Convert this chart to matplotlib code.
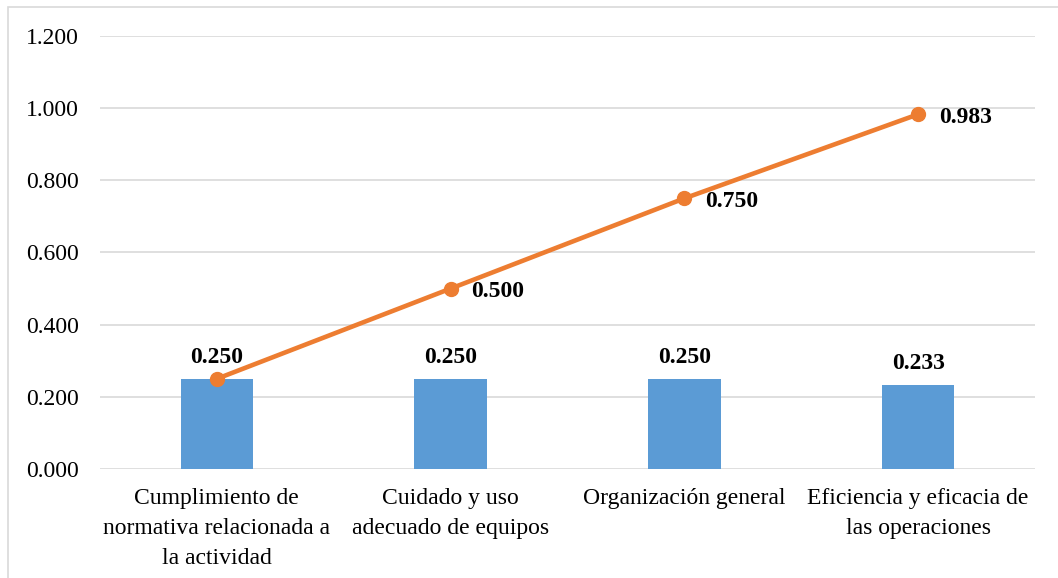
import numpy as np
import matplotlib.pyplot as plt
from matplotlib.patches import Rectangle

categories = ["Cumplimiento de\nnormativa relacionada a\nla actividad",
              "Cuidado y uso\nadecuado de equipos",
              "Organización general",
              "Eficiencia y eficacia de\nlas operaciones"]
bar_values = [0.250, 0.250, 0.250, 0.233]
line_values = [0.250, 0.500, 0.750, 0.983]
y_ticks = [0.0, 0.2, 0.4, 0.6, 0.8, 1.0, 1.2]

plt.rcParams['font.family'] = ['Liberation Serif', 'DejaVu Serif']

fig = plt.figure(figsize=(10.58, 5.78), dpi=100)
ax = fig.add_axes([100 / 1058, 1 - 469 / 578, 935 / 1058, 433 / 578])

# figure border (left and top visible)
fig.patches.append(Rectangle((8 / 1058, -0.1), 1.2, 1 - 7 / 578 + 0.1,
                             transform=fig.transFigure, fill=False,
                             edgecolor='#d9d9d9', linewidth=1.2))

x = np.arange(len(categories))
ax.bar(x, bar_values, width=0.31, color='#5B9BD5', zorder=2)
ax.plot(x, line_values, color='#ED7D31', linewidth=3.3, marker='o',
        markersize=10, zorder=3)

for xi, v in zip(x, bar_values):
    ax.annotate(f"{v:.3f}", (xi, v), xytext=(0, 8), textcoords='offset points',
                ha='center', va='bottom', fontsize=17, fontweight='bold')
for xi, v in zip(x[1:], line_values[1:]):
    ax.annotate(f"{v:.3f}", (xi, v), xytext=(15, -2), textcoords='offset points',
                ha='left', va='center', fontsize=17, fontweight='bold')

ax.set_xlim(-0.5, len(categories) - 0.5)
ax.set_ylim(0, 1.2)
ax.set_yticks(y_ticks)
ax.set_yticklabels([f"{t:.3f}" for t in y_ticks], fontsize=17)
ax.set_xticks(x)
ax.set_xticklabels(categories, fontsize=17, linespacing=1.55)
ax.tick_params(axis='both', length=0)
ax.tick_params(axis='y', pad=15)
ax.tick_params(axis='x', pad=14)
ax.grid(axis='y', color='#d9d9d9', linewidth=1.2, zorder=0)
ax.set_axisbelow(True)
for s in ax.spines.values():
    s.set_visible(False)

fig.savefig('out.png', dpi=100)
